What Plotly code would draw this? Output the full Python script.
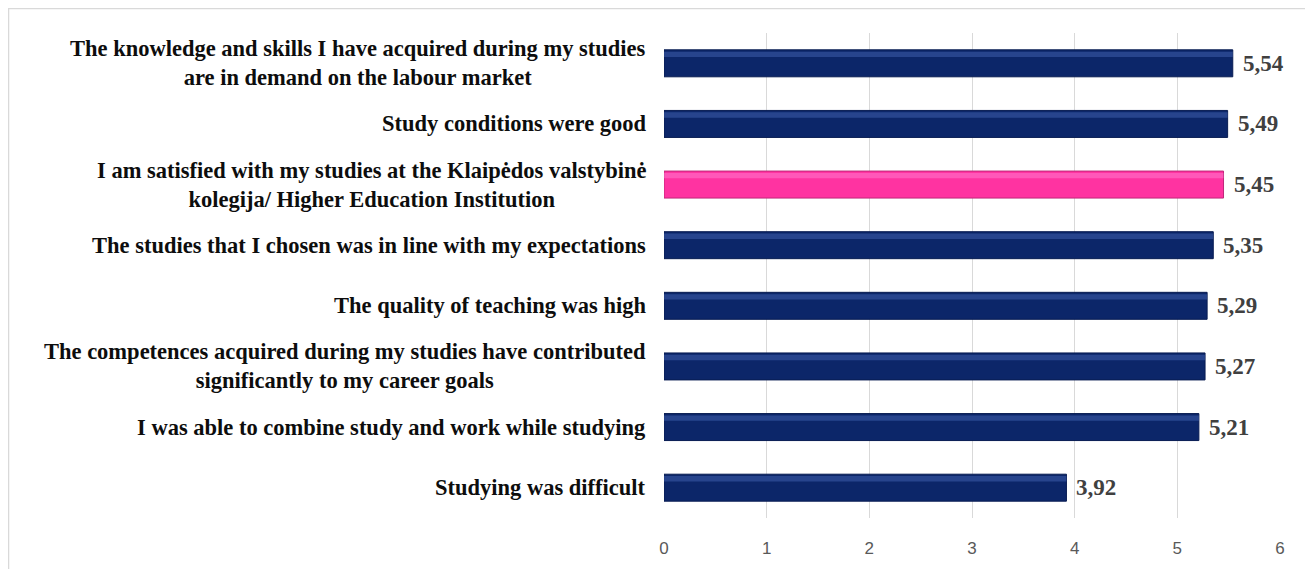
import plotly.graph_objects as go

# survey statements (top to bottom) and mean scores
statements = [
    "The knowledge and skills I have acquired during my studies<br>are in demand on the labour market",
    "Study conditions were good",
    "I am satisfied with my studies at the Klaipėdos valstybinė<br>kolegija/ Higher Education Institution",
    "The studies that I chosen was in line with my expectations",
    "The quality of teaching was high",
    "The competences acquired during my studies have contributed<br>significantly to my career goals",
    "I was able to combine study and work while studying",
    "Studying was difficult",
]
scores = [5.54, 5.49, 5.45, 5.35, 5.29, 5.27, 5.21, 3.92]
x_ticks = [0, 1, 2, 3, 4, 5, 6]

highlight = 2  # the institution row is drawn in pink
NAVY, NAVY_LIGHT, NAVY_EDGE = "#0c2669", "#4a6bbb", "#081c52"
PINK, PINK_LIGHT, PINK_EDGE = "#ff33a1", "#ff85d6", "#c02679"

base_cols = [PINK if i == highlight else NAVY for i in range(len(scores))]
light_cols = [PINK_LIGHT if i == highlight else NAVY_LIGHT for i in range(len(scores))]
edge_cols = [PINK_EDGE if i == highlight else NAVY_EDGE for i in range(len(scores))]

ids = list(range(len(statements)))
BAR_W = 0.445

fig = go.Figure()
fig.add_trace(go.Bar(
    y=ids, x=scores, orientation="h", width=BAR_W,
    marker=dict(color=base_cols, line=dict(color=edge_cols, width=1)),
    hoverinfo="x", showlegend=False,
))
# bevel highlight along the upper edge of each bar
fig.add_trace(go.Bar(
    y=ids, x=scores, orientation="h", width=0.09, offset=-BAR_W / 2 + 0.03,
    marker=dict(color=light_cols, line=dict(width=0), opacity=0.45),
    hoverinfo="skip", showlegend=False,
))

serif = "Liberation Serif, Times New Roman, serif"
annotations = []
for i, (lab, v) in enumerate(zip(statements, scores)):
    annotations.append(dict(
        x=0, xref="paper", y=i, yref="y", text=f"<b>{lab}</b>",
        xanchor="right", yanchor="middle", align="center", xshift=-16,
        showarrow=False, font=dict(family=serif, size=22.5, color="#0d0d0d"),
    ))
    annotations.append(dict(
        x=v, y=i, xref="x", yref="y", text=f"<b>{v:.2f}</b>".replace(".", ","),
        xanchor="left", yanchor="middle", xshift=8, showarrow=False,
        font=dict(family=serif, size=23, color="#404040"),
    ))

fig.update_layout(
    width=1313, height=569,
    margin=dict(l=656, r=41, t=25, b=59),
    paper_bgcolor="white", plot_bgcolor="white",
    barmode="overlay",
    annotations=annotations,
    shapes=[dict(
        type="rect", xref="paper", yref="paper",
        x0=-1.0641, x1=1.0503, y0=-0.3, y1=1.0505,
        line=dict(color="#d9d9d9", width=1.5), layer="below",
    )],
    xaxis=dict(
        range=[0, 6], tickvals=x_ticks, showgrid=True, gridcolor="#d9d9d9",
        gridwidth=1, zeroline=False, showline=False, ticks="",
        tickfont=dict(family="Liberation Sans, Arial, sans-serif", size=17, color="#595959"),
        ticklabelstandoff=18,
    ),
    yaxis=dict(
        range=[len(statements) - 0.5, -0.5], showticklabels=False,
        showgrid=False, zeroline=False, showline=False, ticks="",
    ),
)

fig.write_html("out.html")
